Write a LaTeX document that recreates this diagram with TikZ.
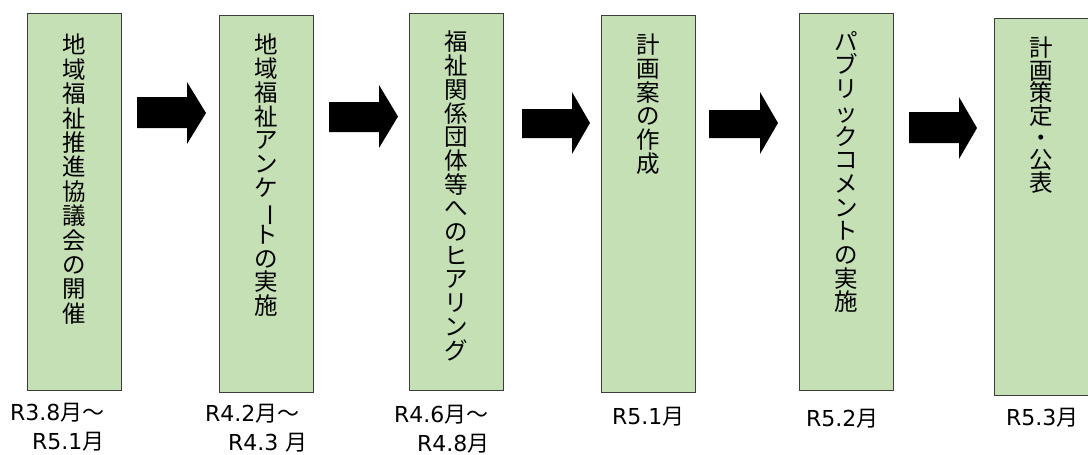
\documentclass[tikz,border=0pt]{standalone}
\usepackage{fontspec}
\newfontfamily\cjk{Noto Sans CJK JP}
\newfontfamily\lat{DejaVu Sans}
\definecolor{boxfill}{RGB}{197,224,180}
\definecolor{boxline}{RGB}{60,60,60}
\newcommand\vbar{\rotatebox[origin=c]{-90}{ー}}
\newcommand\dt[2]{{\lat #1}{\cjk #2}}
\newcommand\tightlines{\lineskiplimit=-100pt\relax}
\newcommand\vfont[1]{\cjk\fontsize{23.5}{#1}\selectfont\tightlines}
\begin{document}
\begin{tikzpicture}[x=1pt,y=-1pt,
  stagebox/.style={draw=boxline, fill=boxfill, line width=0.9pt, minimum width=94pt, inner sep=0pt, anchor=north west},
  vtext/.style={anchor=north, inner sep=0pt, align=center, font={\vfont{23.7}}},
  datelbl/.style={anchor=base west, inner sep=0pt, font=\fontsize{22}{29}\selectfont},
  blockarrow/.style={fill=black}]
\useasboundingbox (0,0) rectangle (1088,455);

% boxes
\node[stagebox, minimum height=377pt] (b1) at (27,13) {};
\node[stagebox, minimum height=377pt] (b2) at (219,15) {};
\node[stagebox, minimum height=377pt] (b3) at (409,13) {};
\node[stagebox, minimum height=377pt] (b4) at (601,15) {};
\node[stagebox, minimum height=377pt] (b5) at (799,13) {};
\node[stagebox, minimum height=377pt] (b6) at (994,18) {};

% vertical texts
\node[vtext, font={\vfont{24.4}}] (t1) at ([yshift=-21pt]b1.north) {地\\域\\福\\祉\\推\\進\\協\\議\\会\\の\\開\\催};
\node[vtext] (t2) at ([yshift=-19pt]b2.north) {地\\域\\福\\祉\\ア\\ン\\ケ\\\vbar\\ト\\の\\実\\施};
\node[vtext] (t3) at ([yshift=-18pt]b3.north) {福\\祉\\関\\係\\団\\体\\等\\へ\\の\\ヒ\\ア\\リ\\ン\\グ};
\node[vtext] (t4) at ([yshift=-19pt]b4.north) {計\\画\\案\\の\\作\\成};
\node[vtext] (t5) at ([yshift=-18pt]b5.north) {パ\\ブ\\リ\\ッ\\ク\\コ\\メ\\ン\\ト\\の\\実\\施};
\node[vtext, font={\vfont{22.4}}] (t6) at ([yshift=-19pt]b6.north) {計\\画\\策\\定\\・\\公\\表};

% block arrows
\fill[blockarrow] (137,97) -- (187,97) -- (187,82) -- (206,113) -- (187,144) -- (187,128) -- (137,128) -- cycle;
\fill[blockarrow] (329,102) -- (379,102) -- (379,85) -- (398,116.5) -- (379,148) -- (379,132) -- (329,132) -- cycle;
\fill[blockarrow] (522,109) -- (572,109) -- (572,92) -- (590,123) -- (572,154) -- (572,138) -- (522,138) -- cycle;
\fill[blockarrow] (709,110) -- (760,110) -- (760,92) -- (778,123) -- (760,154) -- (760,138) -- (709,138) -- cycle;
\fill[blockarrow] (909,112) -- (959,112) -- (959,97) -- (977,128) -- (959,159) -- (959,143) -- (909,143) -- cycle;

% dates
\node[datelbl] (d1a) at (10,420) {\dt{R3.8}{月～}};
\node[datelbl] (d1b) at (32,449) {\dt{R5.1}{月}};
\node[datelbl] (d2a) at (205,421) {\dt{R4.2}{月～}};
\node[datelbl] (d2b) at (228,450) {\dt{R4.3 }{月}};
\node[datelbl] (d3a) at (394,422) {\dt{R4.6}{月～}};
\node[datelbl] (d3b) at (417,451) {\dt{R4.8}{月}};
\node[datelbl] (d4) at (612,424) {\dt{R5.1}{月}};
\node[datelbl] (d5) at (806,426) {\dt{R5.2}{月}};
\node[datelbl] (d6) at (1006,425) {\dt{R5.3}{月}};
\end{tikzpicture}
\end{document}
